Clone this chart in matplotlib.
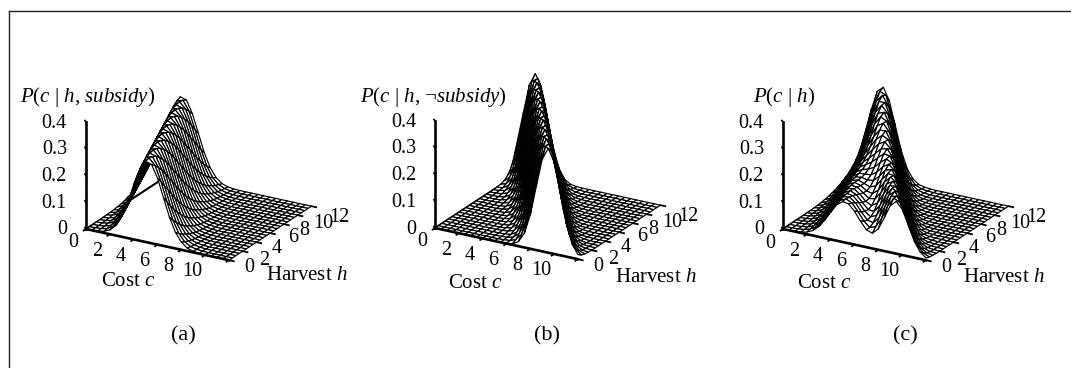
import numpy as np
import matplotlib
matplotlib.use("Agg")
import matplotlib.pyplot as plt
from matplotlib.lines import Line2D
from mpl_toolkits.mplot3d import proj3d

plt.rcParams['font.family'] = ['Liberation Serif', 'DejaVu Serif']
plt.rcParams['mathtext.fontset'] = 'custom'
plt.rcParams['mathtext.rm'] = 'Liberation Serif'
plt.rcParams['mathtext.it'] = 'Liberation Serif:italic'

W, H = 1071, 368

cost_values = [0.5 * k for k in range(25)]
harvest_values = [0.5 * k for k in range(25)]
cost_ticks = [0, 2, 4, 6, 8, 10]
harvest_ticks = [0, 2, 4, 6, 8, 10, 12]
prob_ticks = [0, 0.1, 0.2, 0.3, 0.4]
prob_tick_labels = ['0', '0.1', '0.2', '0.3', '0.4']
panel_letters = ['(a)', '(b)', '(c)']
panel_titles = [r'$\mathit{P}$($\mathit{c}$ | $\mathit{h}$, $\mathit{subsidy}$)',
                r'$\mathit{P}$($\mathit{c}$ | $\mathit{h}$, $\neg\mathit{subsidy}$)',
                r'$\mathit{P}$($\mathit{c}$ | $\mathit{h}$)']

# rows: harvest 0..12, columns: cost 0..12
p_subsidy = [
 [0,.001,.002,.006,.016,.037,.076,.134,.203,.267,.302,.295,.249,.181,.113,.061,.029,.011,.004,.001,0,0,0,0,0],
 [0,.001,.003,.008,.021,.048,.093,.157,.227,.283,.305,.283,.227,.157,.093,.048,.021,.008,.003,.001,0,0,0,0,0],
 [0,.001,.004,.011,.029,.061,.113,.181,.249,.295,.302,.267,.203,.134,.076,.037,.016,.006,.002,.001,0,0,0,0,0],
 [.001,.002,.006,.016,.037,.076,.134,.203,.267,.302,.295,.249,.181,.113,.061,.029,.011,.004,.001,0,0,0,0,0,0],
 [.001,.003,.008,.021,.048,.093,.157,.227,.283,.305,.283,.227,.157,.093,.048,.021,.008,.003,.001,0,0,0,0,0,0],
 [.001,.004,.011,.029,.061,.113,.181,.249,.295,.302,.267,.203,.134,.076,.037,.016,.006,.002,.001,0,0,0,0,0,0],
 [.002,.006,.016,.037,.076,.134,.203,.267,.302,.295,.249,.181,.113,.061,.029,.011,.004,.001,0,0,0,0,0,0,0],
 [.003,.008,.021,.048,.093,.157,.227,.283,.305,.283,.227,.157,.093,.048,.021,.008,.003,.001,0,0,0,0,0,0,0],
 [.004,.011,.029,.061,.113,.181,.249,.295,.302,.267,.203,.134,.076,.037,.016,.006,.002,.001,0,0,0,0,0,0,0],
 [.006,.016,.037,.076,.134,.203,.267,.302,.295,.249,.181,.113,.061,.029,.011,.004,.001,0,0,0,0,0,0,0,0],
 [.008,.021,.048,.093,.157,.227,.283,.305,.283,.227,.157,.093,.048,.021,.008,.003,.001,0,0,0,0,0,0,0,0],
 [.011,.029,.061,.113,.181,.249,.295,.302,.267,.203,.134,.076,.037,.016,.006,.002,.001,0,0,0,0,0,0,0,0],
 [.016,.037,.076,.134,.203,.267,.302,.295,.249,.181,.113,.061,.029,.011,.004,.001,0,0,0,0,0,0,0,0,0],
 [.021,.048,.093,.157,.227,.283,.305,.283,.227,.157,.093,.048,.021,.008,.003,.001,0,0,0,0,0,0,0,0,0],
 [.029,.061,.113,.181,.249,.295,.302,.267,.203,.134,.076,.037,.016,.006,.002,.001,0,0,0,0,0,0,0,0,0],
 [.037,.076,.134,.203,.267,.302,.295,.249,.181,.113,.061,.029,.011,.004,.001,0,0,0,0,0,0,0,0,0,0],
 [.048,.093,.157,.227,.283,.305,.283,.227,.157,.093,.048,.021,.008,.003,.001,0,0,0,0,0,0,0,0,0,0],
 [.061,.113,.181,.249,.295,.302,.267,.203,.134,.076,.037,.016,.006,.002,.001,0,0,0,0,0,0,0,0,0,0],
 [.076,.134,.203,.267,.302,.295,.249,.181,.113,.061,.029,.011,.004,.001,0,0,0,0,0,0,0,0,0,0,0],
 [.093,.157,.227,.283,.305,.283,.227,.157,.093,.048,.021,.008,.003,.001,0,0,0,0,0,0,0,0,0,0,0],
 [.113,.181,.249,.295,.302,.267,.203,.134,.076,.037,.016,.006,.002,.001,0,0,0,0,0,0,0,0,0,0,0],
 [.134,.203,.267,.302,.295,.249,.181,.113,.061,.029,.011,.004,.001,0,0,0,0,0,0,0,0,0,0,0,0],
 [.157,.227,.283,.305,.283,.227,.157,.093,.048,.021,.008,.003,.001,0,0,0,0,0,0,0,0,0,0,0,0],
 [.181,.249,.295,.302,.267,.203,.134,.076,.037,.016,.006,.002,.001,0,0,0,0,0,0,0,0,0,0,0,0],
 [.203,.267,.302,.295,.249,.181,.113,.061,.029,.011,.004,.001,0,0,0,0,0,0,0,0,0,0,0,0,0],
]

p_no_subsidy = [
 [0,0,0,0,0,0,0,0,0,0,0,0,.001,.004,.017,.053,.127,.237,.344,.39,.344,.237,.127,.053,.017],
 [0,0,0,0,0,0,0,0,0,0,0,.001,.003,.011,.037,.097,.197,.311,.384,.369,.276,.161,.073,.026,.007],
 [0,0,0,0,0,0,0,0,0,0,0,.002,.007,.026,.073,.161,.276,.369,.384,.311,.197,.097,.037,.011,.003],
 [0,0,0,0,0,0,0,0,0,0,.001,.004,.017,.053,.127,.237,.344,.39,.344,.237,.127,.053,.017,.004,.001],
 [0,0,0,0,0,0,0,0,0,.001,.003,.011,.037,.097,.197,.311,.384,.369,.276,.161,.073,.026,.007,.002,0],
 [0,0,0,0,0,0,0,0,0,.002,.007,.026,.073,.161,.276,.369,.384,.311,.197,.097,.037,.011,.003,.001,0],
 [0,0,0,0,0,0,0,0,.001,.004,.017,.053,.127,.237,.344,.39,.344,.237,.127,.053,.017,.004,.001,0,0],
 [0,0,0,0,0,0,0,.001,.003,.011,.037,.097,.197,.311,.384,.369,.276,.161,.073,.026,.007,.002,0,0,0],
 [0,0,0,0,0,0,0,.002,.007,.026,.073,.161,.276,.369,.384,.311,.197,.097,.037,.011,.003,.001,0,0,0],
 [0,0,0,0,0,0,.001,.004,.017,.053,.127,.237,.344,.39,.344,.237,.127,.053,.017,.004,.001,0,0,0,0],
 [0,0,0,0,0,.001,.003,.011,.037,.097,.197,.311,.384,.369,.276,.161,.073,.026,.007,.002,0,0,0,0,0],
 [0,0,0,0,0,.002,.007,.026,.073,.161,.276,.369,.384,.311,.197,.097,.037,.011,.003,.001,0,0,0,0,0],
 [0,0,0,0,.001,.004,.017,.053,.127,.237,.344,.39,.344,.237,.127,.053,.017,.004,.001,0,0,0,0,0,0],
 [0,0,0,.001,.003,.011,.037,.097,.197,.311,.384,.369,.276,.161,.073,.026,.007,.002,0,0,0,0,0,0,0],
 [0,0,0,.002,.007,.026,.073,.161,.276,.369,.384,.311,.197,.097,.037,.011,.003,.001,0,0,0,0,0,0,0],
 [0,0,.001,.004,.017,.053,.127,.237,.344,.39,.344,.237,.127,.053,.017,.004,.001,0,0,0,0,0,0,0,0],
 [0,.001,.003,.011,.037,.097,.197,.311,.384,.369,.276,.161,.073,.026,.007,.002,0,0,0,0,0,0,0,0,0],
 [0,.002,.007,.026,.073,.161,.276,.369,.384,.311,.197,.097,.037,.011,.003,.001,0,0,0,0,0,0,0,0,0],
 [.001,.004,.017,.053,.127,.237,.344,.39,.344,.237,.127,.053,.017,.004,.001,0,0,0,0,0,0,0,0,0,0],
 [.003,.011,.037,.097,.197,.311,.384,.369,.276,.161,.073,.026,.007,.002,0,0,0,0,0,0,0,0,0,0,0],
 [.007,.026,.073,.161,.276,.369,.384,.311,.197,.097,.037,.011,.003,.001,0,0,0,0,0,0,0,0,0,0,0],
 [.017,.053,.127,.237,.344,.39,.344,.237,.127,.053,.017,.004,.001,0,0,0,0,0,0,0,0,0,0,0,0],
 [.037,.097,.197,.311,.384,.369,.276,.161,.073,.026,.007,.002,0,0,0,0,0,0,0,0,0,0,0,0,0],
 [.073,.161,.276,.369,.384,.311,.197,.097,.037,.011,.003,.001,0,0,0,0,0,0,0,0,0,0,0,0,0],
 [.127,.237,.344,.39,.344,.237,.127,.053,.017,.004,.001,0,0,0,0,0,0,0,0,0,0,0,0,0,0],
]

# P(c | h) is the equal mixture of the two panels above
p_marginal = (0.5 * (np.array(p_subsidy) + np.array(p_no_subsidy))).tolist()

surfaces = [p_subsidy, p_no_subsidy, p_marginal]
origins = [(86, 229), (435, 228), (783, 229)]
title_xy = [(20, 97), (360, 97), (753, 97)]
cost_label_xy = [(128, 282), (475, 283), (824, 283)]
harvest_label_xy = [(266, 276), (615, 278), (963, 278)]
letter_xy = [(183, 336), (547, 336), (905, 336)]
# pixel offsets of the harvest tick labels from their axis points
harvest_offsets = [(20, 7), (21, 9), (20, 6), (23, 4), (20, 6), (26, 8), (28, 11)]

fig = plt.figure(figsize=(W / 100, H / 100), dpi=100, facecolor='white')
FS = 15
TICK_FS = 14.5
C, Hv = np.meshgrid(cost_values, harvest_values)


def to_px(ax, x, y, z):
    a, b, _ = proj3d.proj_transform(x, y, z, ax.get_proj())
    return ax.transData.transform((a, b))


def place(ax, ox, oy):
    S = 400.0
    for _ in range(2):
        ax.set_position([(ox - S / 2) / W, (H - oy - S / 2) / H, S / W, S / H])
        ax.apply_aspect()
        p0 = to_px(ax, 0, 0, 0)
        p1 = to_px(ax, 12, 0, 0)
        S = S * 146.3 / np.hypot(*(p1 - p0))
    ax.set_position([(ox - S / 2) / W, (H - oy - S / 2) / H, S / W, S / H])
    ax.apply_aspect()
    p0 = to_px(ax, 0, 0, 0)
    ax.set_position([(ox - S / 2 + ox - p0[0]) / W,
                     (H - oy - S / 2 + (H - oy) - p0[1]) / H, S / W, S / H])
    ax.apply_aspect()


def label_at(ax, x, y, z, dx, dy, text, **kw):
    px = to_px(ax, x, y, z)
    fig.text((px[0] + dx) / W, (px[1] - dy) / H, text, **kw)


for k in range(3):
    ax = fig.add_axes([0.1, 0.1, 0.3, 0.3], projection='3d', computed_zorder=False)
    ax.set_proj_type('ortho')
    ax.view_init(elev=22.2, azim=-60)
    ax.set_box_aspect((1, 1, 0.70))
    ax.set_xlim(0, 12, view_margin=0)
    ax.set_ylim(0, 12, view_margin=0)
    ax.set_zlim(0, 0.4, view_margin=0)
    ax.set_axis_off()
    ax.patch.set_alpha(0)
    place(ax, *origins[k])

    # floor line behind the surface
    ax.plot([0, 0], [0, 12], [0, 0], color='black', lw=1.5, zorder=1)
    ax.plot_surface(C, Hv, np.array(surfaces[k]), rstride=1, cstride=1, color='white',
                    edgecolor='black', linewidth=0.85, shade=False, antialiased=True,
                    zorder=2)
    # axes
    ax.plot([0, 12], [0, 0], [0, 0], color='black', lw=1.9, zorder=3)
    ax.plot([0, 0], [0, 0], [0, 0.4], color='black', lw=1.9, zorder=3)
    for c in cost_ticks + [12]:
        ax.plot([c, c], [0, -0.35], [0, 0], color='black', lw=1.3, zorder=3)
    for i, c in enumerate(cost_ticks):
        label_at(ax, c, 0, 0, -13, 14 if i == 0 else 17, str(c), fontsize=TICK_FS,
                 ha='center', va='center')
    for i, h in enumerate(harvest_ticks):
        ax.plot([12, 12.4], [h, h], [0, 0], color='black', lw=1.3, zorder=3)
        label_at(ax, 12, h, 0, harvest_offsets[i][0], harvest_offsets[i][1], str(h),
                 fontsize=TICK_FS, ha='center', va='center')
    for z, lab in zip(prob_ticks, prob_tick_labels):
        ax.plot([0, -0.2], [0, 0.2], [z, z], color='black', lw=1.3, zorder=3)
        label_at(ax, 0, 0, z, -19, 1, lab, fontsize=TICK_FS, ha='right', va='center')

    fig.text(title_xy[k][0] / W, 1 - title_xy[k][1] / H, panel_titles[k], fontsize=FS,
             ha='left', va='center')
    fig.text(cost_label_xy[k][0] / W, 1 - cost_label_xy[k][1] / H, r'Cost $\mathit{c}$',
             fontsize=FS, ha='center', va='center')
    fig.text(harvest_label_xy[k][0] / W, 1 - harvest_label_xy[k][1] / H, r'Harvest $\mathit{h}$',
             fontsize=FS, ha='left', va='center')
    fig.text(letter_xy[k][0] / W, 1 - letter_xy[k][1] / H, panel_letters[k], fontsize=16,
             ha='center', va='center')

# outer frame: left and top rules only
for xs, ys in [((9, 9), (11, 368)), ((9, 1071), (11, 11))]:
    fig.add_artist(Line2D([x / W for x in xs], [1 - y / H for y in ys], color='#222222', lw=1.0))

fig.savefig('out.png', dpi=100, facecolor='white')
